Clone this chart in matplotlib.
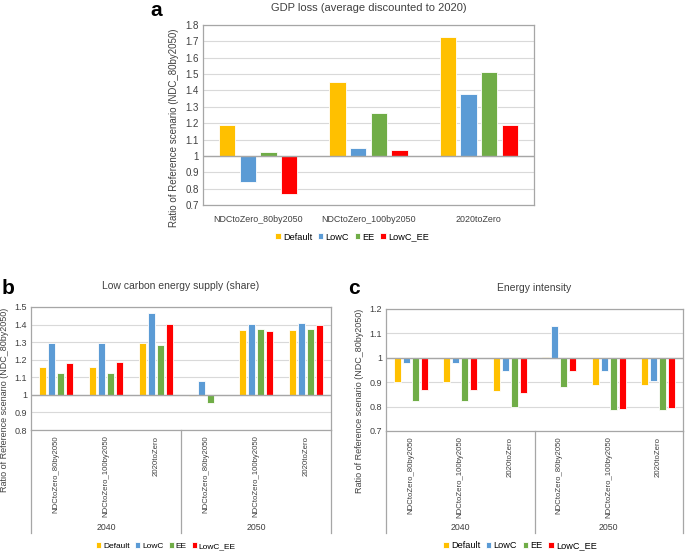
import numpy as np
import matplotlib
matplotlib.use("Agg")
import matplotlib.pyplot as plt
import matplotlib.transforms as mtransforms
from matplotlib.ticker import FormatStrFormatter, MultipleLocator

plt.rcParams['font.family'] = ['Liberation Sans', 'DejaVu Sans']

series = ['Default', 'LowC', 'EE', 'LowC_EE']
colors = ['#FFC000', '#5B9BD5', '#70AD47', '#FF0000']

# panel a
cats_a = ['NDCtoZero_80by2050', 'NDCtoZero_100by2050', '2020toZero']
gdp_default = [1.19, 1.45, 1.725]
gdp_lowc = [0.84, 1.05, 1.38]
gdp_ee = [1.025, 1.265, 1.51]
gdp_lowc_ee = [0.77, 1.035, 1.19]

# panels b and c
cats_bc = ['NDCtoZero_80by2050', 'NDCtoZero_100by2050', '2020toZero'] * 2
years = ['2040', '2050']
lc_default = [1.16, 1.16, 1.295, 0.995, 1.37, 1.37]
lc_lowc = [1.295, 1.295, 1.465, 1.08, 1.405, 1.41]
lc_ee = [1.125, 1.125, 1.285, 0.955, 1.375, 1.375]
lc_lowc_ee = [1.18, 1.185, 1.405, 1.0, 1.365, 1.40]

ei_default = [0.90, 0.90, 0.865, 1.005, 0.89, 0.89]
ei_lowc = [0.98, 0.98, 0.945, 1.13, 0.945, 0.905]
ei_ee = [0.825, 0.825, 0.80, 0.88, 0.785, 0.785]
ei_lowc_ee = [0.87, 0.87, 0.855, 0.945, 0.79, 0.795]

W, H = 685, 551
fig = plt.figure(figsize=(W / 100, H / 100), dpi=100)
txt = '#404040'


def px_axes(left, top, right, bottom):
    return fig.add_axes([left / W, (H - bottom) / H, (right - left) / W, (bottom - top) / H])


def bars(ax, data, pitch, width):
    x = np.arange(len(data[0]))
    for k, vals in enumerate(data):
        off = (k - 1.5) * pitch
        h = np.array(vals) - 1
        ax.bar(x + off, h, width, bottom=1, color=colors[k], edgecolor='white',
               linewidth=0.6, label=series[k], zorder=3)
    return x


def style(ax, ymin, ymax, lab_xy, fs_lab, fs_tick):
    ax.set_ylim(ymin, ymax)
    ax.yaxis.set_major_locator(MultipleLocator(0.1))
    ax.yaxis.set_major_formatter(FormatStrFormatter('%g'))
    ax.grid(axis='y', color='#D9D9D9', linewidth=0.8, zorder=0)
    ax.axhline(1, color='#A6A6A6', linewidth=1.0, zorder=4)
    for s in ax.spines.values():
        s.set_color('#A6A6A6')
        s.set_linewidth(0.9)
    ax.tick_params(length=0, labelsize=fs_tick, colors=txt, pad=3)
    ax.set_ylabel('Ratio of Reference scenario (NDC_80by2050)', fontsize=fs_lab, color=txt)
    ax.yaxis.set_label_coords(*lab_xy)


def legend(ax, cx, cy, fs):
    ax.legend(loc='center', bbox_to_anchor=(cx / W, 1 - cy / H), bbox_transform=fig.transFigure,
              ncol=4, frameon=False, fontsize=fs, handlelength=0.6, handleheight=0.6,
              handletextpad=0.25, columnspacing=0.6, borderpad=0)


# a
ax = px_axes(203, 25, 534, 205)
x = bars(ax, [gdp_default, gdp_lowc, gdp_ee, gdp_lowc_ee], 0.187, 0.15)
ax.set_xlim(-0.5, 2.5)
ax.set_xticks(x)
ax.set_xticklabels(cats_a)
style(ax, 0.7, 1.8, (-0.072, 0.43), 7, 7)
ax.tick_params(axis='x', pad=7, labelsize=6.4)
ax.set_title('GDP loss (average discounted to 2020)', fontsize=8, color=txt, pad=10)
legend(ax, 352, 237, 6.6)
fig.text(150 / W, 1 - 11 / H, 'a', fontsize=15, fontweight='bold', va='center')


def panel_bc(left, top, right, bottom, data, ymin, ymax, title, letter, leg, lab_xy):
    ax = px_axes(left, top, right, bottom)
    x = bars(ax, data, 0.18, 0.14)
    ax.set_xlim(-0.5, 5.5)
    ax.set_xticks(x)
    ax.set_xticklabels(cats_bc, rotation=90, va='top')
    style(ax, ymin, ymax, lab_xy, 6.5, 6.5)
    ax.tick_params(axis='x', pad=4, labelsize=5.6)
    ax.set_title(title, fontsize=7.5, color=txt, pad=13)
    tr = mtransforms.blended_transform_factory(ax.transData, ax.transAxes)
    ext = -(533 - bottom) / (bottom - top)
    for xv in [-0.5, 2.5, 5.5]:
        ax.plot([xv, xv], [0, ext], transform=tr, color='#A6A6A6', linewidth=0.9, clip_on=False)
    for i, yr in enumerate(years):
        ax.text(1 + 3 * i, ext + 0.01, yr, transform=tr, ha='center', va='bottom',
                fontsize=6.3, color=txt)
    legend(ax, leg[0], 546, leg[1])
    fig.text(letter[1] / W, 1 - 289 / H, letter[0], fontsize=15, fontweight='bold', va='center')


panel_bc(31, 307, 331, 430, [lc_default, lc_lowc, lc_ee, lc_lowc_ee], 0.8, 1.5,
         'Low carbon energy supply (share)', ('b', 2), (166, 6.0), (-0.073, 0.245))
panel_bc(386, 309, 683, 431, [ei_default, ei_lowc, ei_ee, ei_lowc_ee], 0.7, 1.2,
         'Energy intensity', ('c', 348), (520, 6.6), (-0.074, 0.25))

fig.savefig('out.png', dpi=100)
